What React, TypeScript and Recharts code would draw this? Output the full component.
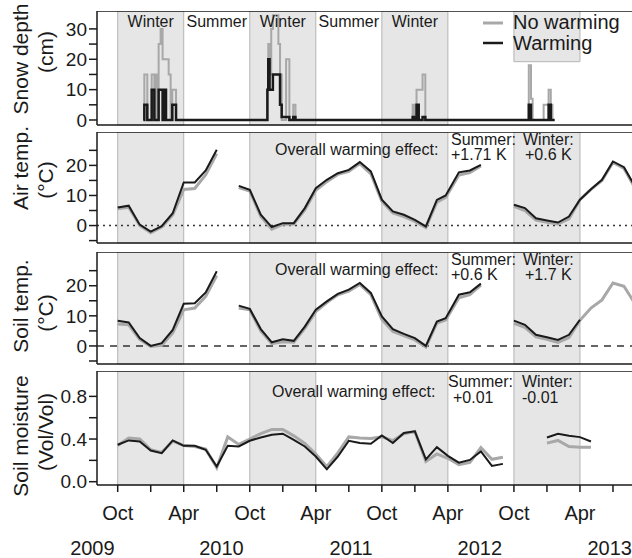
import {
  LineChart,
  Line,
  XAxis,
  YAxis,
  ReferenceArea,
  ReferenceLine,
} from 'recharts'

// months since Oct 2009
const xDomain: [number, number] = [-1.88, 48]
const monthTicks = [0, 3, 6, 9, 12, 15, 18, 21, 24, 27, 30, 33, 36, 39, 42, 45]
const yearTicks = [-2.3, 9.43, 21.2, 32.9, 44.7]
const yearLabels = ['2009', '2010', '2011', '2012', '2013']
const winters = [[0, 6], [12, 18], [24, 30], [36, 42]]

// snow depth (cm), step breakpoints
const snowT = [2.33, 2.42, 2.69, 3.09, 3.33, 3.45, 3.6, 3.72, 3.9, 4.08, 4.2, 4.39, 4.63, 4.81, 4.96, 5.3,
  13.5, 13.6, 13.68, 13.8, 13.95, 14.1, 14.45, 14.6, 14.75, 14.9, 15.3, 15.6, 15.95, 16.15,
  26.8, 26.92, 27.15, 27.35, 27.7, 27.95,
  37.35, 37.55, 37.7, 38.7, 39.15, 39.35, 39.5, 39.7]
const snowNoWarm = [0, 15, 0, 15, 0, 15, 0, 25, 30, 20, 20, 20, 15, 0, 10, 0,
  0, 10, 25, 15, 30, 34.5, 34.5, 25, 15, 0, 20, 0, 5, 0,
  5, 0, 10, 10, 15, 0,
  18, 7, 0, 5, 10, 5, 0, 0]
const snowWarm = [0, 5, 0, 10, 0, 0, 0, 10, 10, 0, 10, 0, 0, 0, 5, 0,
  0, 10, 20, 10, 10, 15, 15, 15, 5, 1, 1, 0, 1, 0,
  1, 0, 5, 0, 1, 0,
  5, 0, 0, 0, 5, 0, 0, 0]

// air and soil temperature (°C)
const tempT = [0, 1, 2, 3, 4, 5, 6, 7, 8, 9, 10, 11, 12, 13, 14, 15, 16, 17, 18, 19, 20, 21, 22, 23, 24, 25, 26, 27, 28,
  29, 29.8, 31, 32, 33, 34, 36, 37, 38, 39, 40, 41, 42, 43, 44, 45, 46, 47]
const airWarm = [6.0, 6.6, 0.3, -2.0, -0.2, 4.1, 14.3, 14.3, 18.3, 25.2, null,
  13.2, 11.9, 3.6, -0.5, 0.8, 0.8, 5.8, 12.4, 15.2, 17.4, 18.5, 21.1, 18.0, 8.6, 4.7, 3.6, 1.9, -0.3,
  8.5, 10.0, 17.7, 18.3, 20.2, null,
  6.9, 5.8, 2.4, 1.7, 1.0, 3.0, 8.6, 12.1, 15.2, 21.3, 19.4, 13.0]
const airNoWarm = [5.6, 6.1, 0.0, -2.4, -0.5, 3.5, 12.0, 12.3, 16.9, 23.9, null,
  12.6, 11.5, 3.0, -1.2, 0.4, 0.5, 5.2, 11.7, 14.6, 17.0, 18.0, 20.6, 17.2, 8.0, 4.2, 3.0, 1.4, -0.7,
  7.8, 9.4, 16.8, 17.6, 19.8, null,
  6.4, 5.0, 1.8, 1.1, 0.5, 2.2, 8.6, 12.0, 15.0, 21.0, 19.0, 12.5]
const soilWarm = [8.4, 7.8, 2.6, 0.0, 0.9, 5.3, 14.0, 14.2, 17.8, 24.8, null,
  13.4, 12.3, 5.6, 1.2, 2.2, 1.7, 6.4, 12.0, 14.8, 17.3, 18.7, 20.9, 17.6, 9.8, 5.6, 4.0, 2.6, 0.0,
  8.1, 9.2, 17.0, 17.8, 20.7, null,
  8.4, 7.0, 3.7, 2.9, 2.0, 3.7, 8.7, null, null, null, null, null]
const soilNoWarm = [7.3, 7.0, 2.2, -0.2, 0.2, 4.3, 12.0, 12.6, 16.5, 23.4, null,
  12.6, 12.0, 5.0, 0.8, 1.4, 1.2, 5.8, 11.4, 14.4, 17.0, 18.2, 20.4, 17.0, 8.8, 4.8, 3.4, 2.0, -0.4,
  7.6, 8.6, 16.0, 17.0, 20.2, null,
  7.5, 6.2, 3.0, 2.2, 1.2, 2.8, 8.5, 12.6, 15.3, 20.9, 19.8, 14.0]

// soil moisture (Vol/Vol)
const moistT = [0, 1, 2, 3, 4, 5, 6, 7, 8, 9, 10, 11, 12, 13, 14, 15, 16, 17, 18, 19, 20, 21, 22, 23, 24, 25, 26, 27,
  28, 29, 30, 31, 32, 33, 34, 35, 37, 39, 40, 41, 42, 43]
const moistWarm = [0.346, 0.387, 0.377, 0.292, 0.267, 0.387, 0.336, 0.336, 0.299, 0.142, 0.336, 0.33,
  0.384, 0.415, 0.44, 0.45, 0.393, 0.33, 0.236, 0.116, 0.236, 0.384, 0.362, 0.355, 0.434, 0.362, 0.456, 0.472,
  0.21, 0.324, 0.242, 0.179, 0.204, 0.283, 0.148, 0.167, null, 0.415, 0.45, 0.43, 0.418, 0.377]
const moistNoWarm = [0.34, 0.41, 0.40, 0.30, 0.275, 0.38, 0.34, 0.33, 0.305, 0.13, 0.42, 0.35,
  0.40, 0.45, 0.49, 0.49, 0.43, 0.36, 0.26, 0.14, 0.27, 0.42, 0.41, 0.405, 0.42, 0.385, 0.45, 0.47,
  0.19, 0.26, 0.22, 0.16, 0.18, 0.32, 0.21, 0.23, null, 0.362, 0.387, 0.33, 0.324, 0.324]

const snowData = snowT.map((t, i) => ({ t, nw: snowNoWarm[i], w: snowWarm[i] }))
const airData = tempT.map((t, i) => ({ t, nw: airNoWarm[i], w: airWarm[i] }))
const soilData = tempT.map((t, i) => ({ t, nw: soilNoWarm[i], w: soilWarm[i] }))
const moistData = moistT.map((t, i) => ({ t, nw: moistNoWarm[i], w: moistWarm[i] }))

const FONT = '"Liberation Sans", Arial, Helvetica, sans-serif'
const INK = '#1a1a1a'
const GRAY = '#a8a8a8'
const SHADE = '#e6e6e6'
const SHADE_EDGE = '#b4b4b4'
const W = 646
const YW = 97

const axisStroke = { stroke: INK, strokeWidth: 1.5 }
const yTick = { fontSize: 19, fill: INK, fontFamily: FONT }

function yAxisProps(domain: [number, number], ticks: number[], fmt: (v: number) => string) {
  return {
    type: 'number' as const,
    domain,
    ticks,
    allowDataOverflow: true,
    width: YW,
    tickSize: 8,
    tickMargin: 2,
    axisLine: axisStroke,
    tickLine: axisStroke,
    tick: yTick,
    tickFormatter: fmt,
    interval: 0 as const,
  }
}

const tenFmt = (v: number) => (v % 10 === 0 ? String(v) : '')
const moistFmt = (v: number) => ([0, 0.4, 0.8].includes(v) ? v.toFixed(1) : '')

function shading(label: boolean, lastTop?: number) {
  return winters.map(([a, b], i) => (
    <ReferenceArea
      key={'w' + i}
      x1={a}
      x2={b}
      y2={i === 3 && lastTop !== undefined ? lastTop : undefined}
      fill={SHADE}
      fillOpacity={1}
      stroke={SHADE_EDGE}
      strokeWidth={1}
      label={label && i < 3 ? { value: 'Winter', position: 'insideTop', offset: 5, fontSize: 16, fill: INK, fontFamily: FONT } : undefined}
    />
  ))
}

function bottomAxis() {
  return (
    <XAxis
      dataKey="t"
      type="number"
      domain={xDomain}
      allowDataOverflow
      ticks={monthTicks}
      interval={0}
      tick={false}
      tickSize={8}
      height={8}
      axisLine={axisStroke}
      tickLine={axisStroke}
    />
  )
}

function series(step: boolean) {
  return [
    <Line key="nw" type={step ? 'stepAfter' : 'linear'} dataKey="nw" stroke={GRAY} strokeWidth={step ? 2 : 3}
      dot={false} isAnimationActive={false} connectNulls={false} />,
    <Line key="w" type={step ? 'stepAfter' : 'linear'} dataKey="w" stroke={INK} strokeWidth={step ? 2.5 : 2}
      dot={false} isAnimationActive={false} connectNulls={false} />,
  ]
}

const m0 = { top: 0, right: 0, bottom: 0, left: 0 }

function Overlay() {
  const t = { fontFamily: FONT, fill: INK }
  const yTitle = (x: number, y: number, s: string) => (
    <text x={x} y={y} transform={`rotate(-90 ${x} ${y})`} textAnchor="middle" fontSize={21} {...t}>{s}</text>
  )
  const note = (x: number, y: number, s: string) => (
    <text x={x} y={y} fontSize={16} {...t}>{s}</text>
  )
  return (
    <svg width={632} height={558} style={{ position: 'absolute', left: 0, top: 0, pointerEvents: 'none' }}>
      {yTitle(28, 59, 'Snow depth')}
      {yTitle(53, 52, '(cm)')}
      {yTitle(28, 168, 'Air temp.')}
      {yTitle(53, 180, '(°C)')}
      {yTitle(28, 306, 'Soil temp.')}
      {yTitle(53, 313, '(°C)')}
      {yTitle(28, 436, 'Soil moisture')}
      {yTitle(53, 432, '(Vol/Vol)')}

      <line x1={483} y1={23} x2={503} y2={23} stroke={GRAY} strokeWidth={3} />
      <text x={513} y={29} fontSize={20} {...t}>No warming</text>
      <line x1={483} y1={43} x2={503} y2={43} stroke={INK} strokeWidth={2.5} />
      <text x={513} y={50} fontSize={20} {...t}>Warming</text>

      {note(275, 155, 'Overall warming effect:')}
      {note(451, 145, 'Summer:')}
      {note(451, 160, '+1.71 K')}
      {note(523, 145, 'Winter:')}
      {note(525, 160, '+0.6 K')}

      {note(275, 275, 'Overall warming effect:')}
      {note(451, 265, 'Summer:')}
      {note(451, 280, '+0.6 K')}
      {note(523, 265, 'Winter:')}
      {note(525, 280, '+1.7 K')}

      {note(272, 397, 'Overall warming effect:')}
      {note(448, 387, 'Summer:')}
      {note(453, 403, '+0.01')}
      {note(522, 387, 'Winter:')}
      {note(522, 403, '-0.01')}
    </svg>
  )
}

export default function App() {
  const snowDomain: [number, number] = [-1.65, 35.9]
  const airDomain: [number, number] = [-5.8, 31.1]
  const soilDomain: [number, number] = [-6.0, 31.2]
  const moistDomain: [number, number] = [-0.031, 1.038]
  const tempTicks = [-5, 0, 5, 10, 15, 20, 25]

  return (
    <div style={{ position: 'absolute', left: 0, top: 0, width: 632, height: 558, overflow: 'hidden', background: '#fff' }}>
      <div style={{ position: 'absolute', left: 0, top: 11 }}>
        <LineChart width={W} height={122} data={snowData} margin={m0}>
          {shading(true, 19.2)}
          <ReferenceArea x1={6} x2={12} fillOpacity={0} strokeOpacity={0}
            label={{ value: 'Summer', position: 'insideTop', offset: 5, fontSize: 16, fill: INK, fontFamily: FONT }} />
          <ReferenceArea x1={18} x2={24} fillOpacity={0} strokeOpacity={0}
            label={{ value: 'Summer', position: 'insideTop', offset: 5, fontSize: 16, fill: INK, fontFamily: FONT }} />
          {bottomAxis()}
          <YAxis {...yAxisProps(snowDomain, [0, 5, 10, 15, 20, 25, 30], tenFmt)} />
          <ReferenceLine y={snowDomain[1]} stroke={INK} strokeWidth={1.5} />
          {series(true)}
        </LineChart>
      </div>

      <div style={{ position: 'absolute', left: 0, top: 132 }}>
        <LineChart width={W} height={119} data={airData} margin={m0}>
          {shading(false)}
          {bottomAxis()}
          <YAxis {...yAxisProps(airDomain, tempTicks, tenFmt)} />
          <ReferenceLine y={airDomain[1]} stroke={INK} strokeWidth={1.5} />
          <ReferenceLine y={0} stroke="#333" strokeWidth={1.5} strokeDasharray="2 4" />
          {series(false)}
        </LineChart>
      </div>

      <div style={{ position: 'absolute', left: 0, top: 252 }}>
        <LineChart width={W} height={120} data={soilData} margin={m0}>
          {shading(false)}
          {bottomAxis()}
          <YAxis {...yAxisProps(soilDomain, tempTicks, tenFmt)} />
          <ReferenceLine y={soilDomain[1]} stroke={INK} strokeWidth={1.5} />
          <ReferenceLine y={0} stroke="#333" strokeWidth={1.5} strokeDasharray="7 6" />
          {series(false)}
        </LineChart>
      </div>

      <div style={{ position: 'absolute', left: 0, top: 371 }}>
        <LineChart width={W} height={189} data={moistData} margin={m0}>
          {shading(false)}
          <XAxis
            dataKey="t"
            type="number"
            domain={xDomain}
            allowDataOverflow
            ticks={monthTicks}
            interval={0}
            tickSize={7}
            tickMargin={14}
            height={40}
            axisLine={axisStroke}
            tickLine={axisStroke}
            tick={{ fontSize: 20, fill: INK, fontFamily: FONT }}
            tickFormatter={(v: number) => (v % 6 === 0 ? (v % 12 === 0 ? 'Oct' : 'Apr') : '')}
          />
          <XAxis
            xAxisId="yr"
            dataKey="t"
            type="number"
            domain={xDomain}
            allowDataOverflow
            ticks={yearTicks}
            interval={0}
            tickSize={0}
            tickMargin={16}
            height={35}
            axisLine={false}
            tickLine={false}
            tick={{ fontSize: 20, fill: INK, fontFamily: FONT }}
            tickFormatter={(v: number) => yearLabels[yearTicks.indexOf(v)] ?? ''}
          />
          <YAxis {...yAxisProps(moistDomain, [0, 0.2, 0.4, 0.6, 0.8], moistFmt)} />
          <ReferenceLine y={moistDomain[1]} stroke={INK} strokeWidth={1.5} />
          {series(false)}
        </LineChart>
      </div>

      <Overlay />
    </div>
  )
}
